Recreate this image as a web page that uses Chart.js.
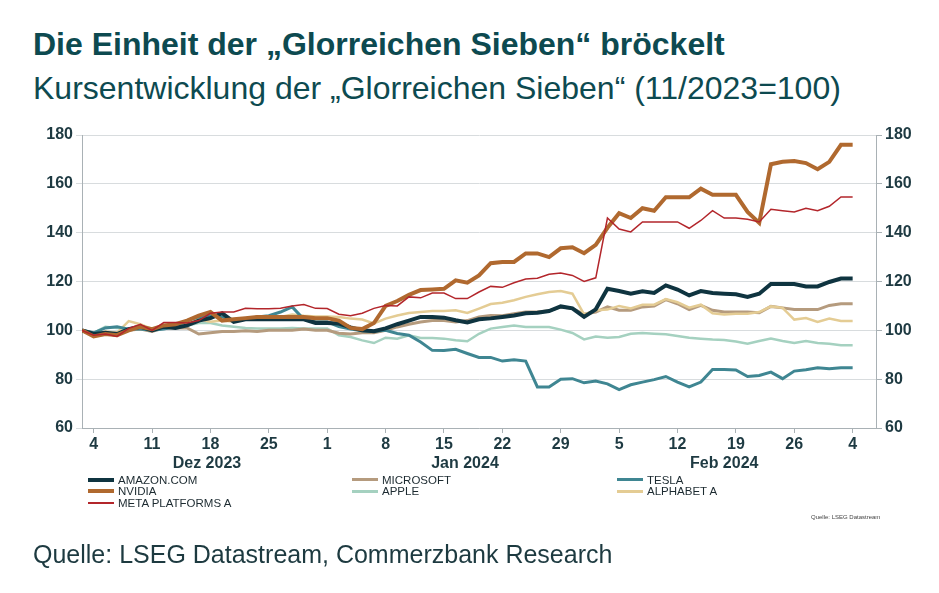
<!DOCTYPE html>
<html>
<head>
<meta charset="utf-8">
<script src="https://cdn.jsdelivr.net/npm/chart.js@4.4.1/dist/chart.umd.min.js"></script>
<style>
  body { margin: 0; background: #fff; }
  #wrap { position: relative; width: 939px; height: 593px; overflow: hidden; font-family: "Liberation Sans", Arial, sans-serif; }
  #myChart { position: absolute; left: 0; top: 0; }
  .title { position: absolute; left: 33px; top: 26px; font-size: 32px; font-weight: bold; color: #0d4a50; white-space: nowrap; }
  .sub { position: absolute; left: 33px; top: 70px; font-size: 32px; color: #0d4a50; white-space: nowrap; }
  .foot { position: absolute; left: 33px; top: 540px; font-size: 25px; color: #1d3a40; white-space: nowrap; }
  .src { position: absolute; left: 811px; top: 514px; font-size: 6px; color: #444; white-space: nowrap; }
  #legend { position: absolute; left: 88px; top: 474px; width: 800px; display: grid; grid-template-columns: 264px 265px 265px; }
  .item { display: flex; align-items: center; height: 11.5px; font-size: 11.5px; color: #1c2a30; }
  .sw { width: 26px; margin-right: 4px; }
</style>
</head>
<body>
<div id="wrap">
  <div class="title">Die Einheit der „Glorreichen Sieben“ bröckelt</div>
  <div class="sub">Kursentwicklung der „Glorreichen Sieben“ (11/2023=100)</div>
  <canvas id="myChart" width="939" height="593"></canvas>
  <div id="legend"></div>
  <div class="src">Quelle: LSEG Datastream</div>
  <div class="foot">Quelle: LSEG Datastream, Commerzbank Research</div>
</div>
<script>
'use strict';

// x = business day index, 1 Dez 2023 .. 4 Mar 2024
var mondayIdx = [1, 6, 11, 16, 21, 26, 31, 36, 41, 46, 51, 56, 61, 66];
var tickLabels = ['4', '11', '18', '25', '1', '8', '15', '22', '29', '5', '12', '19', '26', '4'];
var monthLabels = ['Dez 2023', 'Jan 2024', 'Feb 2024'];
var monthPos = [10.7, 32.8, 55];

var names = ['AMAZON.COM', 'MICROSOFT', 'TESLA', 'NVIDIA', 'APPLE', 'ALPHABET A', 'META PLATFORMS A'];
var colors = ['#0f3440', '#b59b7e', '#3f8692', '#b0692f', '#a5d1c0', '#e4cc94', '#b3262b'];
var widths = [4, 3, 3, 4, 2.5, 2.5, 1.5];

var amazon = [100, 98.5, 99, 98.5, 100.5, 101.5, 100, 101.5, 101, 102, 104, 105, 107, 103.5, 104.5, 104.5, 104.5, 104.5, 104.5, 104.5,
  103, 103, 102.8, 101.2, 100, 99.6, 100.8, 102.5, 104, 105.5, 105.5, 105.2, 104.1, 103.2, 104.5, 104.9, 105.5, 106.1, 107, 107.2,
  107.9, 109.8, 109, 105.5, 108.6, 117, 116.1, 115, 116, 115.3, 118.4, 116.7, 114.3, 116.1, 115.3, 115, 114.8, 113.7, 115, 119,
  119, 119, 118, 118, 119.8, 121.2, 121.2];
var microsoft = [100, 98, 99, 99, 100, 100.5, 99.5, 101, 101, 101, 98.5, 99, 99.5, 99.5, 99.8, 99.5, 100, 100, 100, 100.5,
  100, 100, 98.8, 98.5, 99, 99, 100, 101.4, 102.5, 103.4, 104, 104, 103.4, 104, 105.5, 106.1, 106, 106.8, 107.5, 107.5,
  108, 109.6, 109, 106.6, 107.5, 109.6, 108.2, 108.2, 109.6, 110, 112.6, 110.9, 108.5, 110.2, 108.2, 107.5, 107.5, 107.5, 107.2, 109.8,
  109.2, 108.5, 108.5, 108.5, 110.2, 110.9, 110.9];
var tesla = [100, 99, 101, 101.5, 100.5, 100.5, 100, 100.5, 101.5, 104, 105.5, 106, 105.5, 104, 104.5, 105.5, 106, 107.5, 109.6, 104.5,
  103.5, 103.5, 101.5, 100.5, 99.8, 99.6, 100, 98.7, 98, 95.2, 91.8, 91.7, 92.2, 90.5, 88.9, 88.9, 87.4, 87.9, 87.4, 76.8,
  76.8, 80, 80.2, 78.5, 79.2, 78.1, 75.7, 77.7, 78.8, 79.8, 81.1, 78.8, 76.8, 78.8, 84, 84, 83.8, 81.1, 81.5, 82.9,
  80.2, 83.3, 83.9, 84.7, 84.3, 84.7, 84.7];
var nvidia = [100, 97.5, 98.5, 98, 100, 101.5, 100.5, 102, 102.5, 104, 106, 107.5, 104, 104.5, 105, 105.5, 105.5, 105.5, 105.5, 105.5,
  105, 105, 104, 101, 100.5, 103, 110, 112, 114.5, 116.5, 116.7, 117, 120.5, 119.5, 122.5, 127.5, 128, 128, 131.5, 131.5,
  130, 133.6, 134, 131.6, 135, 142, 148, 146, 150, 149, 154.5, 154.5, 154.5, 158, 155.5, 155.5, 155.5, 148.5, 144, 168,
  169, 169.3, 168.5, 166, 169, 176, 176];
var apple = [100, 99, 101.5, 101, 100, 100.5, 100.5, 101, 101.5, 102, 103, 103, 102, 101.5, 101, 100.8, 100.8, 100.8, 101, 100.8,
  100.8, 100.8, 98, 97.3, 95.9, 94.8, 97, 96.6, 98, 96.9, 96.9, 96.6, 95.9, 95.5, 98.6, 100.7, 101.4, 102, 101.4, 101.4,
  101.4, 100.3, 98.9, 96.3, 97.5, 97, 97.3, 98.6, 98.9, 98.6, 98.4, 97.7, 97, 96.6, 96.2, 96, 95.4, 94.5, 95.6, 96.6,
  95.6, 94.8, 95.6, 94.8, 94.5, 93.9, 93.9];
var alphabet = [100, 98.5, 99.5, 99, 103.8, 102.5, 100.5, 101.5, 102, 102.5, 104.5, 103.5, 104, 103.5, 105, 105.5, 105.5, 105.5, 106.5, 106,
  105.7, 105.7, 105.5, 104.8, 104.4, 102.8, 104.8, 106.1, 107.1, 107.5, 107.9, 107.9, 108.2, 107.1, 108.9, 110.8, 111.3, 112.3, 113.7, 114.8,
  115.7, 116.1, 115, 106.5, 108.2, 108.5, 110, 109, 110.5, 110.5, 112.8, 111.5, 109.3, 110.5, 107, 106.5, 106.8, 106.8, 107.5, 109.8,
  109.2, 104.4, 105, 103.4, 104.8, 103.8, 103.8];
var meta = [100, 98, 98.5, 97.5, 100.8, 102.5, 100, 103.2, 103.2, 103, 104, 107, 107.5, 107.5, 109, 108.8, 108.8, 109, 110, 110.6,
  109, 108.9, 106.6, 106, 107, 109, 110.2, 110, 113.7, 113.3, 115.3, 115.3, 113, 113, 115.7, 118, 117.6, 119.5, 121, 121.3,
  123, 123.5, 122.5, 120, 121.5, 146, 141.5, 140.3, 144.4, 144.4, 144.4, 144.4, 141.8, 145, 149, 146, 146, 145.5, 144.4, 149.6,
  149, 148.5, 150, 149, 150.8, 154.6, 154.6];

var series = [amazon, microsoft, tesla, nvidia, apple, alphabet, meta];
// drawing order: lower number = on top
var drawOrder = [2, 5, 3, 1, 6, 4, 0];

var axisColor = '#a9b1b5';
var labelColor = '#1e3a42';

function toPoints(arr) {
  return arr.map(function (v, i) { return { x: i, y: v }; });
}

var datasets = [];
for (var i = 0; i < names.length; i++) {
  datasets.push({
    label: names[i],
    data: toPoints(series[i]),
    borderColor: colors[i],
    backgroundColor: colors[i],
    borderWidth: widths[i],
    pointRadius: 0,
    tension: 0,
    order: drawOrder[i],
    yAxisID: 'y'
  });
}

// legend, row by row like the original
var legendEl = document.getElementById('legend');
for (var k = 0; k < names.length; k++) {
  var item = document.createElement('div');
  item.className = 'item';
  var sw = document.createElement('div');
  sw.className = 'sw';
  sw.style.height = Math.max(2, widths[k]) + 'px';
  sw.style.background = colors[k];
  item.appendChild(sw);
  item.appendChild(document.createTextNode(names[k]));
  legendEl.appendChild(item);
}

var monthPlugin = {
  id: 'months',
  afterDraw: function (chart) {
    var c = chart.ctx;
    var xs = chart.scales.x;
    c.save();
    c.font = 'bold 16px "Liberation Sans", Arial, sans-serif';
    c.fillStyle = labelColor;
    c.textAlign = 'center';
    c.textBaseline = 'middle';
    for (var m = 0; m < monthLabels.length; m++) {
      c.fillText(monthLabels[m], xs.getPixelForValue(monthPos[m]), chart.chartArea.bottom + 36);
    }
    c.restore();
  }
};

var ctx = document.getElementById('myChart').getContext('2d');
var chart = new Chart(ctx, {
  type: 'line',
  data: { datasets: datasets },
  plugins: [monthPlugin],
  options: {
    responsive: false,
    animation: false,
    layout: { padding: { top: 135, bottom: 125, left: 0, right: 0 } },
    plugins: { legend: { display: false }, tooltip: { enabled: false } },
    scales: {
      x: {
        type: 'linear',
        min: 0,
        max: 68,
        afterBuildTicks: function (s) {
          s.ticks = mondayIdx.map(function (v) { return { value: v }; });
        },
        afterFit: function (s) { s.height = 40; },
        grid: { drawOnChartArea: false, color: axisColor, tickLength: 5 },
        border: { color: axisColor, width: 1 },
        ticks: {
          autoSkip: false,
          maxRotation: 0,
          padding: 2,
          color: labelColor,
          font: { family: '"Liberation Sans", Arial, sans-serif', size: 16, weight: 'bold' },
          callback: function (value, index) { return tickLabels[index]; }
        }
      },
      y: {
        position: 'left',
        min: 60,
        max: 180,
        afterFit: function (s) { s.width = 82; },
        grid: { color: '#d8dcde', lineWidth: 1, tickLength: 6 },
        border: { color: axisColor, width: 1 },
        ticks: {
          stepSize: 20,
          padding: 3,
          color: labelColor,
          font: { family: '"Liberation Sans", Arial, sans-serif', size: 16, weight: 'bold' }
        }
      },
      y2: {
        position: 'right',
        min: 60,
        max: 180,
        afterFit: function (s) { s.width = 63; },
        grid: { drawOnChartArea: false, color: axisColor, tickLength: 6 },
        border: { color: axisColor, width: 1 },
        ticks: {
          stepSize: 20,
          padding: 3,
          color: labelColor,
          font: { family: '"Liberation Sans", Arial, sans-serif', size: 16, weight: 'bold' }
        }
      }
    }
  }
});
</script>
</body>
</html>
